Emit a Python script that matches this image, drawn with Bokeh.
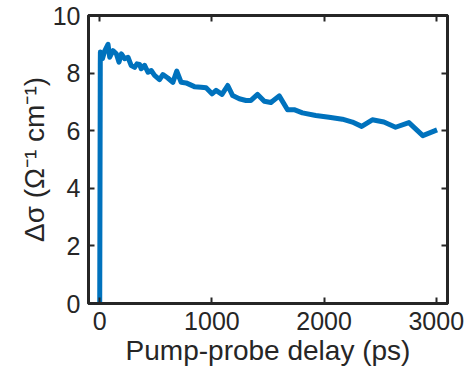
from bokeh.plotting import figure
from bokeh.models import LinearAxis, Range1d, FixedTicker
from bokeh.embed import file_html
from bokeh.resources import INLINE

delay_ps = [0, 5, 6, 24, 44, 74, 89, 118, 148, 172, 193, 222, 252, 281, 311, 332, 355, 370,
            400, 430, 459, 489, 533, 563, 607, 652, 687, 726, 770, 844, 904, 948, 1001, 1037,
            1090, 1141, 1185, 1244, 1304, 1348, 1407, 1467, 1526, 1600, 1674, 1733, 1807,
            1926, 2044, 2163, 2252, 2335, 2430, 2533, 2637, 2756, 2880, 3007]
d_sigma = [0.0, 8.3, 8.73, 8.5, 8.76, 9.0, 8.55, 8.78, 8.67, 8.38, 8.67, 8.5, 8.55, 8.26,
           8.2, 8.32, 8.3, 8.15, 8.27, 8.03, 8.09, 7.92, 7.77, 7.95, 7.83, 7.68, 8.07, 7.68,
           7.66, 7.53, 7.51, 7.49, 7.28, 7.4, 7.26, 7.57, 7.22, 7.11, 7.05, 7.05, 7.26, 7.02,
           6.98, 7.21, 6.73, 6.73, 6.62, 6.53, 6.47, 6.4, 6.3, 6.15, 6.38, 6.3, 6.12, 6.28,
           5.83, 6.03]
x_ticks = [0, 1000, 2000, 3000]
y_ticks = [0, 2, 4, 6, 8, 10]

FONT = "Liberation Sans"
INK = "#262626"

p = figure(width=468, height=379, output_backend="svg", toolbar_location=None,
           x_range=Range1d(-100, 3100), y_range=Range1d(0, 10),
           min_border_left=88, min_border_right=21, min_border_top=15, min_border_bottom=76)
p.xgrid.visible = False
p.ygrid.visible = False
p.outline_line_color = INK
p.outline_line_width = 3
p.background_fill_color = "white"
p.border_fill_color = "white"

p.line(delay_ps, d_sigma, line_color="#0072BD", line_width=5, line_join="round")

def style(ax, labels=True):
    ax.axis_line_color = INK
    ax.axis_line_width = 3
    ax.major_tick_line_color = INK
    ax.major_tick_line_width = 2
    ax.major_tick_in = 6
    ax.major_tick_out = 0
    ax.minor_tick_line_color = None
    ax.major_label_text_font = FONT
    ax.axis_label_text_font = FONT
    ax.axis_label_text_color = INK
    ax.axis_label_text_font_style = "normal"
    ax.axis_label_text_font_size = "28px"
    if labels:
        ax.major_label_text_color = INK
        ax.major_label_text_font_size = "25px"
    else:
        ax.major_label_text_color = None
        ax.major_label_text_font_size = "1px"
        ax.major_label_standoff = 0
        ax.axis_label_standoff = 0

xa = p.xaxis[0]
xa.ticker = FixedTicker(ticks=x_ticks)
xa.axis_label = "Pump-probe delay (ps)"
style(xa)
xa.major_label_standoff = 8
xa.axis_label_standoff = 2

ya = p.yaxis[0]
ya.ticker = FixedTicker(ticks=y_ticks)
ya.axis_label = "Δσ (Ω⁻¹ cm⁻¹)"
style(ya)
ya.major_label_standoff = 8
ya.axis_label_standoff = 0

ra = LinearAxis(ticker=FixedTicker(ticks=y_ticks))
style(ra, labels=False)
p.add_layout(ra, "right")
ta = LinearAxis(ticker=FixedTicker(ticks=x_ticks))
style(ta, labels=False)
p.add_layout(ta, "above")

open("out.html", "w").write(file_html(p, INLINE))
